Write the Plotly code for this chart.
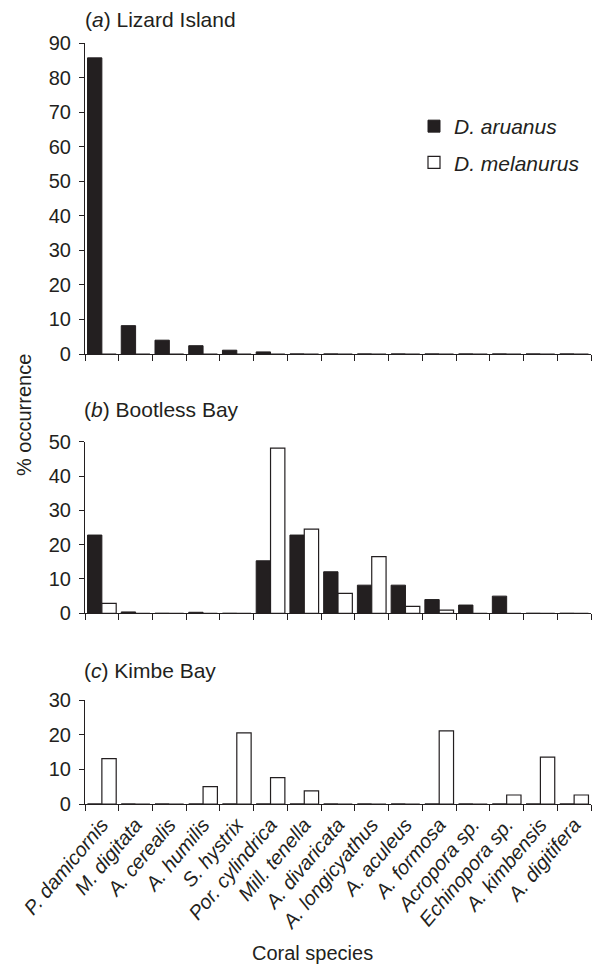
import plotly.graph_objects as go

species = ["P. damicornis", "M. digitata", "A. cerealis", "A. humilis", "S. hystrix",
           "Por. cylindrica", "Mill. tenella", "A. divaricata", "A. longicyathus",
           "A. aculeus", "A. formosa", "Acropora sp.", "Echinopora sp.",
           "A. kimbensis", "A. digitifera"]

lizard_aruanus = [85.7, 8.2, 4.0, 2.4, 1.1, 0.6, 0, 0, 0, 0, 0, 0, 0, 0, 0]
lizard_melanurus = [0, 0, 0, 0, 0, 0, 0, 0, 0, 0, 0, 0, 0, 0, 0]
bootless_aruanus = [22.8, 0.4, 0, 0.3, 0, 15.3, 22.8, 12.1, 8.2, 8.2, 4.0, 2.4, 5.0, 0, 0]
bootless_melanurus = [2.9, 0, 0, 0, 0, 48.1, 24.5, 5.8, 16.5, 2.0, 0.9, 0, 0, 0, 0]
kimbe_aruanus = [0, 0, 0, 0, 0, 0, 0, 0, 0, 0, 0, 0, 0, 0, 0]
kimbe_melanurus = [13.1, 0, 0, 5.0, 20.5, 7.6, 3.8, 0, 0, 0, 21.1, 0, 2.6, 13.5, 2.6]

yticks_a = [0, 10, 20, 30, 40, 50, 60, 70, 80, 90]
yticks_b = [0, 10, 20, 30, 40, 50]
yticks_c = [0, 10, 20, 30]

W, H = 597, 966
INK = "#231f20"
FONT = "Liberation Sans"


def px_x(p):
    return p / W


def px_y(p):
    return 1 - p / H


fig = go.Figure()

panels = [
    ("x", "y", lizard_aruanus, lizard_melanurus, True),
    ("x2", "y2", bootless_aruanus, bootless_melanurus, False),
    ("x3", "y3", kimbe_aruanus, kimbe_melanurus, False),
]
for xa, ya, ar, me, show in panels:
    fig.add_trace(go.Bar(x=species, y=ar, xaxis=xa, yaxis=ya, name="<i>D. aruanus</i>",
                         marker=dict(color=INK, line=dict(color=INK, width=1)),
                         legendgroup="ar", showlegend=show))
    fig.add_trace(go.Bar(x=species, y=me, xaxis=xa, yaxis=ya, name="<i>D. melanurus</i>",
                         marker=dict(color="white", line=dict(color=INK, width=1.2)),
                         legendgroup="me", showlegend=show))

common_x = dict(type="category", tickson="boundaries", ticks="outside", ticklen=6,
                tickcolor=INK, showline=True, linecolor=INK, linewidth=1.2,
                showgrid=False, zeroline=False, range=[-0.5, 14.5], automargin=False,
                categoryorder="array", categoryarray=species,
                domain=[px_x(85), px_x(591)])
common_y = dict(ticks="outside", ticklen=5, tickcolor=INK, showline=True, linecolor=INK,
                linewidth=1.2, showgrid=False, zeroline=False, automargin=False,
                tickfont=dict(family=FONT, size=20, color=INK), ticklabelstandoff=4)

fig.update_layout(
    width=W, height=H,
    margin=dict(l=0, r=0, t=0, b=0),
    paper_bgcolor="white", plot_bgcolor="rgba(0,0,0,0)",
    barmode="group", bargap=0.15, bargroupgap=0,
    font=dict(family=FONT, color=INK, size=20),
    xaxis=dict(common_x, anchor="y", showticklabels=False),
    xaxis2=dict(common_x, anchor="y2", showticklabels=False),
    xaxis3=dict(common_x, anchor="y3", showticklabels=True, tickangle=-50,
                tickfont=dict(family=FONT, size=20, color=INK, style="italic")),
    yaxis=dict(common_y, domain=[px_y(354), px_y(43)], range=[0, 90], tickvals=yticks_a, anchor="x"),
    yaxis2=dict(common_y, domain=[px_y(613.3), px_y(441.7)], range=[0, 50], tickvals=yticks_b, anchor="x2"),
    yaxis3=dict(common_y, domain=[px_y(804), px_y(700)], range=[0, 30], tickvals=yticks_c, anchor="x3"),
    legend=dict(x=px_x(414), y=px_y(106), xanchor="left", yanchor="top",
                font=dict(family=FONT, size=21, color=INK), tracegroupgap=6,
                bgcolor="rgba(0,0,0,0)", traceorder="grouped"),
)

annos = [
    ("(<i>a</i>) Lizard Island", 83, 20),
    ("(<i>b</i>) Bootless Bay", 82, 409),
    ("(<i>c</i>) Kimbe Bay", 82, 670),
]
for txt, x, y in annos:
    fig.add_annotation(text=txt, x=px_x(x), y=px_y(y), xref="paper", yref="paper",
                       xanchor="left", yanchor="middle", showarrow=False,
                       font=dict(family=FONT, size=21, color=INK))

fig.add_annotation(text="% occurrence", x=px_x(24), y=px_y(415), xref="paper", yref="paper",
                   xanchor="center", yanchor="middle", showarrow=False, textangle=-90,
                   font=dict(family=FONT, size=20, color=INK))
fig.add_annotation(text="Coral species", x=px_x(312), y=px_y(953), xref="paper", yref="paper",
                   xanchor="center", yanchor="middle", showarrow=False,
                   font=dict(family=FONT, size=20, color=INK))

fig.write_html("out.html", config={"displayModeBar": False},
               post_script="document.body.style.margin='0px';")
